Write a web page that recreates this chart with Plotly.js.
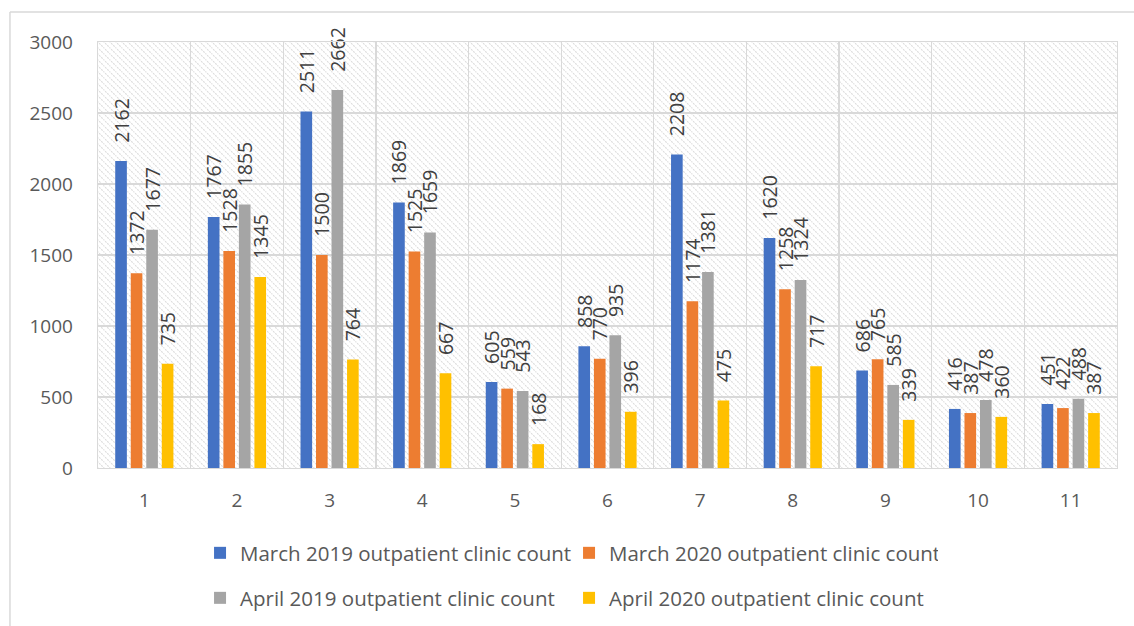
<!DOCTYPE html>
<html>
<head>
<meta charset="utf-8">
<script src="https://cdn.plot.ly/plotly-3.0.1.min.js"></script>
<style>
html,body{margin:0;padding:0;background:#fff;}
#chart{width:1134px;height:626px;}
</style>
</head>
<body>
<div id="chart"></div>
<script>
const categories = ['1','2','3','4','5','6','7','8','9','10','11'];
const seriesNames = [
  'March 2019 outpatient clinic count',
  'March 2020 outpatient clinic count',
  'April 2019 outpatient clinic count',
  'April 2020 outpatient clinic count'
];
const march2019 = [2162,1767,2511,1869,605,858,2208,1620,686,416,451];
const march2020 = [1372,1528,1500,1525,559,770,1174,1258,765,387,422];
const april2019 = [1677,1855,2662,1659,543,935,1381,1324,585,478,488];
const april2020 = [735,1345,764,667,168,396,475,717,339,360,387];
const yTicks = [0,500,1000,1500,2000,2500,3000];

const colors = ['#4472C4','#ED7D31','#A5A5A5','#FFC000'];
const FONT = '"Open Sans", "Noto Sans", sans-serif';
const values = [march2019, march2020, april2019, april2020];
const legendIds = ['legend','legend','legend2','legend2'];

const traces = values.map((v,i)=>({
  type:'bar',
  name: seriesNames[i],
  x: categories,
  y: v,
  marker:{color:colors[i], line:{width:0}},
  text: v.map(String),
  texttemplate: '\u00a0\u00a0\u00a0%{text}',
  textposition:'outside',
  textangle:-90,
  constraintext:'none',
  cliponaxis:false,
  textfont:{family:FONT, size:19.5, color:'#404040'},
  legend: legendIds[i],
  hoverinfo:'x+y+name'
}));

// hatch pattern for plot area background
const PW = 1019, PH = 426;
const svg = `<svg xmlns="http://www.w3.org/2000/svg" width="${PW}" height="${PH}" viewBox="0 0 ${PW} ${PH}">
<defs><pattern id="h" patternUnits="userSpaceOnUse" width="6" height="6">
<path d="M-1,-1 L7,7 M-1,5 L1,7 M5,-1 L7,1" stroke="#dcdcdc" stroke-width="1.1" stroke-dasharray="2,1"/>
</pattern></defs>
<rect width="${PW}" height="${PH}" fill="#ffffff"/>
<rect width="${PW}" height="${PH}" fill="url(#h)"/>
</svg>`;
const src = 'data:image/svg+xml;charset=utf-8,' + encodeURIComponent(svg);

const gridCol = '#d9d9d9';
const legendFont = {family:FONT, size:20.5, color:'#595959'};
const layout = {
  width:1134, height:626,
  margin:{l:98, r:17, t:42, b:158, pad:0, autoexpand:false},
  paper_bgcolor:'#ffffff',
  plot_bgcolor:'#ffffff',
  barmode:'group',
  bargap:0.33,
  bargroupgap:0.25,
  showlegend:true,
  font:{family:FONT, color:'#595959', size:19},
  xaxis:{
    type:'category',
    tickson:'boundaries',
    showgrid:true, gridcolor:gridCol, gridwidth:1.3,
    showline:true, linecolor:gridCol, linewidth:1.3, mirror:true,
    ticks:'', ticklabelstandoff:15,
    tickfont:{family:FONT, size:19, color:'#595959'},
    zeroline:false, fixedrange:true, automargin:false
  },
  yaxis:{
    range:[0,3000],
    tickvals:yTicks,
    ticktext:yTicks.map(String),
    showgrid:true, gridcolor:gridCol, gridwidth:1.3,
    showline:true, linecolor:gridCol, linewidth:1.3, mirror:true,
    ticks:'outside', ticklen:20, tickcolor:'rgba(0,0,0,0)',
    tickfont:{family:FONT, size:19, color:'#595959'},
    zeroline:false, fixedrange:true, automargin:false
  },
  legend:{
    orientation:'h', xref:'container', yref:'container',
    x:0.1764, xanchor:'left', y:0.1166, yanchor:'middle',
    entrywidth:324, entrywidthmode:'pixels',
    font:legendFont,
    bgcolor:'rgba(0,0,0,0)', itemclick:false, itemdoubleclick:false
  },
  legend2:{
    orientation:'h', xref:'container', yref:'container',
    x:0.1764, xanchor:'left', y:0.0447, yanchor:'middle',
    entrywidth:324, entrywidthmode:'pixels',
    font:legendFont,
    bgcolor:'rgba(0,0,0,0)', itemclick:false, itemdoubleclick:false
  },
  images:[{
    source: src, xref:'paper', yref:'paper', x:0, y:1, sizex:1, sizey:1,
    xanchor:'left', yanchor:'top', sizing:'stretch', layer:'below'
  }],
  shapes:[
    {type:'line', xref:'paper', yref:'paper', x0:-0.0864, x1:-0.0864, y0:-0.4, y1:1.0704,
     line:{color:'#d9d9d9', width:1.5}},
    {type:'line', xref:'paper', yref:'paper', x0:-0.0864, x1:1.02, y0:1.0704, y1:1.0704,
     line:{color:'#d9d9d9', width:1.5}}
  ]
};

Plotly.newPlot('chart', traces, layout, {displayModeBar:false, staticPlot:true});
</script>
</body>
</html>
